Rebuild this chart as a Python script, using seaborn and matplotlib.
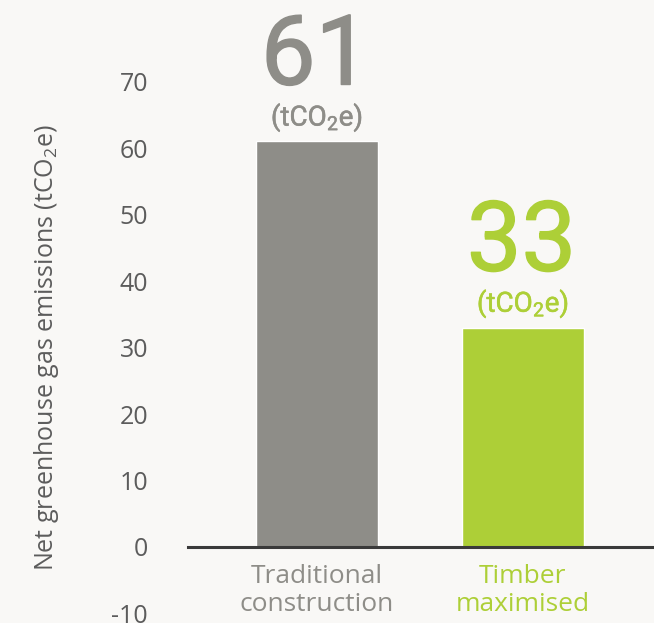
import matplotlib
matplotlib.use("Agg")
import matplotlib.pyplot as plt
import matplotlib.patheffects as pe
import seaborn as sns
import pandas as pd

# Data
categories = ["Traditional\nconstruction", "Timber\nmaximised"]
emissions = [61, 33]
bar_colors = ["#8e8d88", "#adcf37"]
y_ticks = [-10, 0, 10, 20, 30, 40, 50, 60, 70]
unit_label = "(tCO$_\\mathregular{2}$e)"
y_title = "Net greenhouse gas emissions (tCO$_\\mathregular{2}$e)"

sns.set_style("white")
plt.rcParams["font.family"] = ["Open Sans", "DejaVu Sans"]
plt.rcParams["axes.unicode_minus"] = False

bg = "#f9f8f6"
fig = plt.figure(figsize=(6.54, 6.23), dpi=100, facecolor=bg)
ax = fig.add_axes([188 / 654, 0, 466 / 654, 1])
ax.set_facecolor(bg)

df = pd.DataFrame({"category": categories, "value": emissions})
sns.barplot(data=df, x="category", y="value", hue="category",
            palette=bar_colors, width=0.59, saturation=1,
            legend=False, ax=ax, zorder=2)

ax.set_xlim(-0.626, 1.636)
ax.set_ylim(-11.43, 82.26)
ax.set_yticks(y_ticks)
ax.set_yticklabels([str(t) for t in y_ticks])

for side in ["top", "right", "left"]:
    ax.spines[side].set_visible(False)
ax.spines["bottom"].set_position(("data", 0))
ax.spines["bottom"].set_color("#3a3a3a")
ax.spines["bottom"].set_linewidth(2.2)
ax.spines["bottom"].set_zorder(3)

ax.tick_params(axis="y", length=0, pad=28.8, labelsize=18, labelcolor="#5c5c5c")
ax.tick_params(axis="x", length=0, pad=12, labelsize=19)
for lbl, c in zip(ax.get_xticklabels(), bar_colors):
    lbl.set_color(c)
    lbl.set_linespacing(1.15)

ax.set_xlabel("")
ax.set_ylabel(y_title, fontsize=18, color="#5c5c5c")
ax.yaxis.set_label_coords(-0.2725, 0.4414)

# Value callouts above each bar (regular weight thickened to a medium look)
for i, (v, c) in enumerate(zip(emissions, bar_colors)):
    ax.annotate(str(v), xy=(i, v), xytext=(-1, 41), textcoords="offset points",
                ha="center", va="baseline", fontsize=70, color=c,
                family=["Roboto", "DejaVu Sans"], fontweight="normal",
                path_effects=[pe.withStroke(linewidth=1.1, foreground=c)])
    ax.annotate(unit_label, xy=(i, v), xytext=(0, 17), textcoords="offset points",
                ha="center", va="center", fontsize=20, color=c,
                family=["Roboto", "DejaVu Sans"], fontweight="normal",
                path_effects=[pe.withStroke(linewidth=0.35, foreground=c)])

fig.savefig("out.png", dpi=100, facecolor=bg)
